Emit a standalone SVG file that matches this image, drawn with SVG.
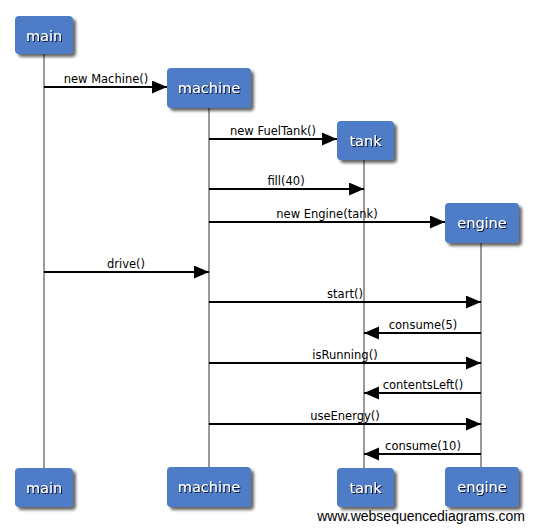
<svg xmlns="http://www.w3.org/2000/svg" width="534" height="530" viewBox="0 0 534 530">
<style>
.box{fill:#4f7bc6;filter:url(#bs)}
.bt{font-family:"DejaVu Sans",Verdana,sans-serif;font-size:14.5px;fill:#fff;text-anchor:middle;filter:url(#ts)}
.life{stroke:#9a9a9a;stroke-width:2;fill:none}
.msg{stroke:#000;stroke-width:2;fill:none;marker-end:url(#ah)}
.ml{font-family:"DejaVu Sans",Verdana,sans-serif;font-size:11.5px;fill:#000;text-anchor:middle}
.wm{font-family:"Liberation Sans",Arial,sans-serif;font-size:14px;fill:#000;text-anchor:end}
</style>
<defs>
<filter id="bs" x="-20%" y="-20%" width="150%" height="160%">
<feGaussianBlur in="SourceAlpha" stdDeviation="1.5"/>
<feOffset dx="3" dy="3" result="o"/>
<feComponentTransfer><feFuncA type="linear" slope="0.6"/></feComponentTransfer>
<feMerge><feMergeNode/><feMergeNode in="SourceGraphic"/></feMerge>
</filter>
<filter id="ts" x="-20%" y="-30%" width="150%" height="170%">
<feDropShadow dx="1" dy="1" stdDeviation="0.4" flood-color="#0d1630" flood-opacity="1"/>
</filter>
<marker id="ah" markerUnits="userSpaceOnUse" markerWidth="16" markerHeight="14" refX="15" refY="6.5" orient="auto">
<path d="M0,0 L15,6.5 L0,13 z" fill="#000"/>
</marker>
</defs>
<rect width="534" height="530" fill="#fff"/>
<g id="lifelines">
<line class="life" x1="44" y1="54" x2="44" y2="468"/>
<line class="life" x1="209" y1="108" x2="209" y2="467"/>
<line class="life" x1="364" y1="160" x2="364" y2="468"/>
<line class="life" x1="481" y1="243" x2="481" y2="467"/>
</g>
<g id="connectors">
<line class="msg" x1="44" y1="87" x2="167" y2="87"/>
<text class="ml" x="106" y="83">new Machine()</text>
<line class="msg" x1="209" y1="139" x2="337" y2="139"/>
<text class="ml" x="273" y="135">new FuelTank()</text>
<line class="msg" x1="209" y1="189" x2="364" y2="189"/>
<text class="ml" x="286" y="185">fill(40)</text>
<line class="msg" x1="209" y1="222" x2="445" y2="222"/>
<text class="ml" x="327" y="218">new Engine(tank)</text>
<line class="msg" x1="44" y1="272" x2="209" y2="272"/>
<text class="ml" x="126" y="268">drive()</text>
<line class="msg" x1="209" y1="302" x2="481" y2="302"/>
<text class="ml" x="345" y="298">start()</text>
<line class="msg" x1="481" y1="333" x2="364" y2="333"/>
<text class="ml" x="423" y="329">consume(5)</text>
<line class="msg" x1="209" y1="363" x2="481" y2="363"/>
<text class="ml" x="345" y="359">isRunning()</text>
<line class="msg" x1="481" y1="393" x2="364" y2="393"/>
<text class="ml" x="423" y="389">contentsLeft()</text>
<line class="msg" x1="209" y1="424" x2="481" y2="424"/>
<text class="ml" x="345" y="420">useEnergy()</text>
<line class="msg" x1="481" y1="454" x2="364" y2="454"/>
<text class="ml" x="423" y="450">consume(10)</text>
</g>
<g id="main-top"><rect class="box" x="15" y="16" width="58" height="38" rx="4"/><text class="bt" x="44" y="40.5">main</text></g>
<g id="machine-top"><rect class="box" x="167" y="68" width="84" height="40" rx="4"/><text class="bt" x="209" y="93">machine</text></g>
<g id="tank-top"><rect class="box" x="337" y="121" width="57" height="39" rx="4"/><text class="bt" x="365.5" y="145.5">tank</text></g>
<g id="engine-top"><rect class="box" x="445" y="203" width="74" height="40" rx="4"/><text class="bt" x="482" y="228">engine</text></g>
<g id="main-bottom"><rect class="box" x="15" y="468" width="58" height="39" rx="4"/><text class="bt" x="44" y="492.5">main</text></g>
<g id="machine-bottom"><rect class="box" x="167" y="467" width="84" height="40" rx="4"/><text class="bt" x="209" y="492">machine</text></g>
<g id="tank-bottom"><rect class="box" x="337" y="468" width="57" height="39" rx="4"/><text class="bt" x="365.5" y="492.5">tank</text></g>
<g id="engine-bottom"><rect class="box" x="445" y="467" width="74" height="40" rx="4"/><text class="bt" x="482" y="492">engine</text></g>
<text class="wm" x="525" y="521">www.websequencediagrams.com</text>
</svg>
